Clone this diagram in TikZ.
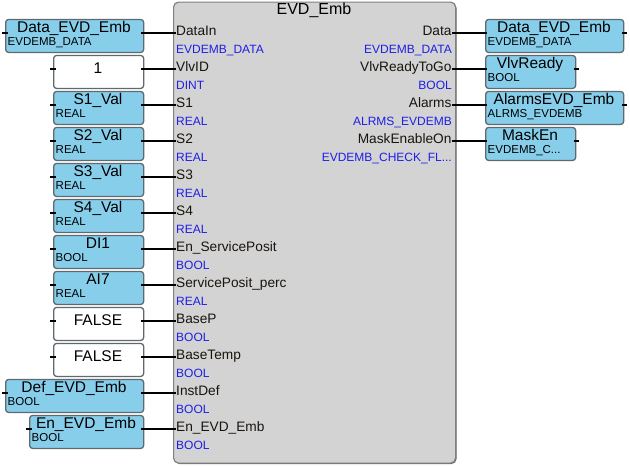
\documentclass[tikz,border=0pt]{standalone}
\usepackage{fontspec}
\setmainfont{Liberation Sans}
\definecolor{blockfill}{RGB}{211,211,211}
\definecolor{blockline}{RGB}{128,128,128}
\definecolor{blockshadow}{RGB}{100,100,100}
\definecolor{varfill}{RGB}{135,206,235}
\definecolor{boxline}{RGB}{95,105,110}
\definecolor{typeblue}{RGB}{30,30,230}
\definecolor{pintext}{RGB}{25,20,15}
\tikzset{
  blk/.style={fill=blockfill, draw=blockline, line width=1.2pt, rounded corners=5pt, inner sep=0pt, anchor=north west},
  blkshadow/.style={fill=blockshadow, rounded corners=5pt},
  varbox/.style={fill=varfill, draw=boxline, line width=1.3pt, rounded corners=3pt, inner sep=0pt, anchor=north west, minimum height=33pt},
  constbox/.style={varbox, fill=white},
  wire/.style={line width=2.3pt, black},
  boxname/.style={font=\fontsize{15.5}{16}\selectfont, inner sep=0pt, anchor=base},
  boxtype/.style={font=\fontsize{11.5}{12}\selectfont, inner sep=0pt, anchor=base west},
  pinname/.style={font=\fontsize{13.7}{14}\selectfont, text=pintext, inner sep=0pt},
  pintype/.style={font=\fontsize{12}{12}\selectfont, text=typeblue, inner sep=0pt},
  titletext/.style={font=\fontsize{16}{16}\selectfont, inner sep=0pt, anchor=base},
}
\newcommand\LeftPin[3]{%
  \pgfmathsetmacro\yy{33.3+36*#1}%
  \coordinate (lp#1) at (173,\yy);
  \node[pinname, anchor=base west] (lpn#1) at (176,\yy+2.5) {#2};
  \node[pintype, anchor=base west] (lpt#1) at (176,\yy+20.5) {#3};
}
\newcommand\RightPin[3]{%
  \pgfmathsetmacro\yy{33.3+36*#1}%
  \coordinate (rp#1) at (455,\yy);
  \node[pinname, anchor=base east] (rpn#1) at (451.7,\yy+2.5) {#2};
  \node[pintype, anchor=base east] (rpt#1) at (452,\yy+20.5) {#3};
}
\newcommand\LeftVar[5]{%
  \pgfmathsetmacro\yy{33.3+36*#2}%
  \pgfmathsetmacro\ww{143-#3}%
  \node[varbox, minimum width=\ww pt] (#1) at (#3,\yy-14.5) {};
  \node[boxname] (#1-n) at ({(#3+143)/2},\yy-1) {#4};
  \node[boxtype] (#1-t) at (#3+2.5,\yy+11.7) {#5};
  \draw[wire] (#1.west |- lp#2) ++(-3,0) -- ++(6,0);
  \draw[wire, shorten <=-3pt, shorten >=-3pt] (#1.east |- lp#2) -- (lp#2);
}
\newcommand\LeftConst[3]{%
  \pgfmathsetmacro\yy{33.3+36*#2}%
  \node[constbox, minimum width=90pt] (#1) at (53,\yy-14.5) {};
  \node[boxname] (#1-n) at (98,\yy+4) {#3};
  \draw[wire] (#1.west |- lp#2) ++(-3,0) -- ++(6,0);
  \draw[wire, shorten <=-3pt, shorten >=-3pt] (#1.east |- lp#2) -- (lp#2);
}
\newcommand\RightVar[5]{%
  \pgfmathsetmacro\yy{33.3+36*#2}%
  \node[varbox, minimum width=#3pt] (#1) at (485,\yy-14.5) {};
  \node[boxname] (#1-n) at (485+#3/2,\yy-1) {#4};
  \node[boxtype] (#1-t) at (487.5,\yy+11.7) {#5};
  \draw[wire] (#1.east |- rp#2) ++(-2.5,0) -- ++(5.5,0);
  \draw[wire, shorten <=-3pt, shorten >=-2pt] (rp#2) -- (#1.west |- rp#2);
}
\begin{document}
\begin{tikzpicture}[x=1pt,y=-1pt]
\useasboundingbox (0,0) rectangle (630,466);
% function block
\fill[blkshadow] (174.5,3) rectangle (456.5,464);
\node[blk, minimum width=282pt, minimum height=461pt] (evd) at (173,1.5) {};
\node[titletext] (title) at (314,14) {EVD\_Emb};
% input pins
\LeftPin{0}{DataIn}{EVDEMB\_DATA}
\LeftPin{1}{VlvID}{DINT}
\LeftPin{2}{S1}{REAL}
\LeftPin{3}{S2}{REAL}
\LeftPin{4}{S3}{REAL}
\LeftPin{5}{S4}{REAL}
\LeftPin{6}{En\_ServicePosit}{BOOL}
\LeftPin{7}{ServicePosit\_perc}{REAL}
\LeftPin{8}{BaseP}{BOOL}
\LeftPin{9}{BaseTemp}{BOOL}
\LeftPin{10}{InstDef}{BOOL}
\LeftPin{11}{En\_EVD\_Emb}{BOOL}
% output pins
\RightPin{0}{Data}{EVDEMB\_DATA}
\RightPin{1}{VlvReadyToGo}{BOOL}
\RightPin{2}{Alarms}{ALRMS\_EVDEMB}
\RightPin{3}{MaskEnableOn}{EVDEMB\_CHECK\_FL...}
% input variables
\LeftVar{datain}{0}{5}{Data\_EVD\_Emb}{EVDEMB\_DATA}
\LeftConst{vlvid}{1}{1}
\LeftVar{sone}{2}{53}{S1\_Val}{REAL}
\LeftVar{stwo}{3}{53}{S2\_Val}{REAL}
\LeftVar{sthree}{4}{53}{S3\_Val}{REAL}
\LeftVar{sfour}{5}{53}{S4\_Val}{REAL}
\LeftVar{dione}{6}{53}{DI1}{BOOL}
\LeftVar{aiseven}{7}{53}{AI7}{REAL}
\LeftConst{basep}{8}{FALSE}
\LeftConst{basetemp}{9}{FALSE}
\LeftVar{instdef}{10}{5}{Def\_EVD\_Emb}{BOOL}
\LeftVar{enevd}{11}{29}{En\_EVD\_Emb}{BOOL}
% output variables
\RightVar{dataout}{0}{138}{Data\_EVD\_Emb}{EVDEMB\_DATA}
\RightVar{vlvready}{1}{90}{VlvReady}{BOOL}
\RightVar{alarms}{2}{138}{AlarmsEVD\_Emb}{ALRMS\_EVDEMB}
\RightVar{masken}{3}{90}{MaskEn}{EVDEMB\_C...}
\end{tikzpicture}
\end{document}
